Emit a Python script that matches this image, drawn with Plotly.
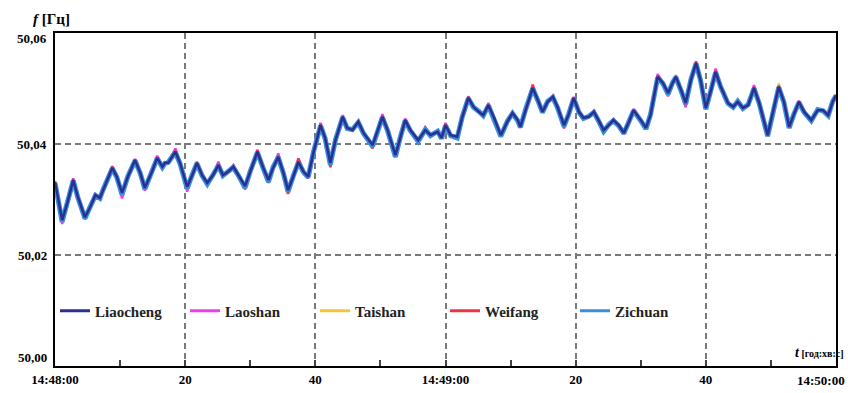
import plotly.graph_objects as go

# time in seconds after 14:48:00
T = [0, 1.1, 1.9, 2.8, 3.5, 4.6, 5.4, 6.2, 6.9, 7.4,
     8.8, 9.5, 10.3, 11.2, 12.3, 13.1, 13.8, 14.9, 15.7, 16.5,
     16.9, 17.4, 18.5, 19.2, 20.3, 21.1, 21.8, 22.6, 23.4, 24.3,
     25.1, 25.8, 26.6, 27.4, 28.2, 29.2, 30.0, 31.1, 32.0, 32.8,
     33.5, 34.3, 35.1, 35.8, 36.6, 37.4, 38.2, 38.9, 39.7, 40.8,
     41.5, 42.3, 43.1, 44.2, 44.9, 45.7, 46.6, 47.4, 48.8, 49.5,
     50.3, 51.1, 52.3, 53.1, 53.8, 54.6, 55.8, 56.9, 57.7, 58.8,
     59.4, 60.0, 60.8, 61.8, 62.6, 63.5, 64.3, 65.1, 65.8, 66.6,
     67.4, 68.5, 69.5, 70.3, 71.1, 71.5, 72.3, 73.4, 74.2, 74.9,
     75.7, 76.5, 77.2, 78.2, 78.9, 79.7, 80.5, 81.2, 82.0, 82.8,
     83.5, 84.3, 85.1, 85.8, 86.6, 87.4, 88.2, 88.9, 90.0, 90.8,
     91.5, 92.6, 93.4, 94.2, 94.9, 95.4, 96.2, 96.9, 97.7, 98.5,
     99.2, 100.0, 100.8, 101.5, 102.3, 103.4, 104.2, 104.9, 105.7, 106.5,
     107.4, 108.2, 109.5, 110.3, 111.2, 112.0, 112.8, 113.5, 114.3, 115.1,
     116.2, 117.2, 118.0, 118.8, 119.5, 120.0]

liaocheng = [50.0332, 50.0263, 50.0294, 50.0335, 50.0305, 50.0268, 50.0286, 50.0308, 50.0303, 50.0317,
             50.0357, 50.0341, 50.0312, 50.0341, 50.0371, 50.0348, 50.0321, 50.0350, 50.0375, 50.0359,
             50.0366, 50.0366, 50.0386, 50.0366, 50.0323, 50.0344, 50.0366, 50.0344, 50.0330, 50.0344,
             50.0362, 50.0344, 50.0350, 50.0359, 50.0344, 50.0324, 50.0350, 50.0386, 50.0357, 50.0335,
             50.0357, 50.0377, 50.0348, 50.0317, 50.0341, 50.0368, 50.0350, 50.0341, 50.0384, 50.0434,
             50.0411, 50.0366, 50.0407, 50.0449, 50.0429, 50.0425, 50.0440, 50.0420, 50.0398, 50.0420,
             50.0449, 50.0425, 50.0380, 50.0413, 50.0443, 50.0425, 50.0407, 50.0425, 50.0416, 50.0422,
             50.0411, 50.0434, 50.0416, 50.0413, 50.0449, 50.0483, 50.0467, 50.0458, 50.0452, 50.0470,
             50.0449, 50.0416, 50.0440, 50.0456, 50.0443, 50.0431, 50.0461, 50.0501, 50.0479, 50.0458,
             50.0476, 50.0485, 50.0467, 50.0434, 50.0452, 50.0483, 50.0458, 50.0447, 50.0449, 50.0458,
             50.0443, 50.0425, 50.0434, 50.0443, 50.0434, 50.0420, 50.0440, 50.0461, 50.0443, 50.0429,
             50.0452, 50.0521, 50.0510, 50.0492, 50.0510, 50.0521, 50.0497, 50.0474, 50.0515, 50.0546,
             50.0515, 50.0465, 50.0497, 50.0530, 50.0503, 50.0474, 50.0467, 50.0476, 50.0465, 50.0470,
             50.0501, 50.0474, 50.0416, 50.0458, 50.0503, 50.0476, 50.0431, 50.0452, 50.0476, 50.0458,
             50.0443, 50.0461, 50.0461, 50.0452, 50.0476, 50.0488]

laoshan = [50.0330, 50.0256, 50.0294, 50.0338, 50.0305, 50.0264, 50.0286, 50.0310, 50.0303, 50.0317,
           50.0359, 50.0341, 50.0302, 50.0341, 50.0373, 50.0348, 50.0316, 50.0350, 50.0379, 50.0359,
           50.0366, 50.0366, 50.0392, 50.0366, 50.0314, 50.0344, 50.0368, 50.0344, 50.0326, 50.0344,
           50.0368, 50.0344, 50.0350, 50.0362, 50.0344, 50.0318, 50.0350, 50.0390, 50.0357, 50.0332,
           50.0357, 50.0383, 50.0348, 50.0312, 50.0341, 50.0372, 50.0350, 50.0338, 50.0384, 50.0438,
           50.0411, 50.0360, 50.0407, 50.0452, 50.0429, 50.0425, 50.0442, 50.0420, 50.0395, 50.0420,
           50.0454, 50.0425, 50.0376, 50.0413, 50.0446, 50.0425, 50.0404, 50.0425, 50.0416, 50.0424,
           50.0411, 50.0438, 50.0416, 50.0410, 50.0449, 50.0486, 50.0467, 50.0458, 50.0452, 50.0474,
           50.0449, 50.0413, 50.0440, 50.0458, 50.0443, 50.0429, 50.0461, 50.0503, 50.0479, 50.0456,
           50.0476, 50.0487, 50.0467, 50.0431, 50.0452, 50.0485, 50.0458, 50.0445, 50.0449, 50.0460,
           50.0443, 50.0422, 50.0434, 50.0445, 50.0434, 50.0418, 50.0440, 50.0463, 50.0443, 50.0427,
           50.0452, 50.0526, 50.0510, 50.0486, 50.0510, 50.0524, 50.0497, 50.0466, 50.0515, 50.0549,
           50.0515, 50.0462, 50.0497, 50.0536, 50.0503, 50.0474, 50.0465, 50.0476, 50.0463, 50.0470,
           50.0506, 50.0474, 50.0414, 50.0458, 50.0503, 50.0476, 50.0429, 50.0452, 50.0478, 50.0458,
           50.0441, 50.0461, 50.0461, 50.0450, 50.0476, 50.0484]

taishan = [50.0334, 50.0265, 50.0296, 50.0333, 50.0305, 50.0270, 50.0286, 50.0306, 50.0303, 50.0319,
           50.0355, 50.0341, 50.0314, 50.0341, 50.0369, 50.0348, 50.0323, 50.0350, 50.0373, 50.0359,
           50.0364, 50.0366, 50.0384, 50.0366, 50.0325, 50.0344, 50.0364, 50.0344, 50.0332, 50.0344,
           50.0360, 50.0344, 50.0352, 50.0357, 50.0344, 50.0326, 50.0350, 50.0384, 50.0357, 50.0337,
           50.0357, 50.0375, 50.0348, 50.0319, 50.0341, 50.0366, 50.0350, 50.0343, 50.0384, 50.0432,
           50.0411, 50.0368, 50.0407, 50.0447, 50.0429, 50.0425, 50.0438, 50.0416, 50.0400, 50.0420,
           50.0447, 50.0425, 50.0382, 50.0413, 50.0441, 50.0425, 50.0409, 50.0425, 50.0416, 50.0420,
           50.0411, 50.0432, 50.0416, 50.0415, 50.0449, 50.0481, 50.0467, 50.0458, 50.0452, 50.0468,
           50.0449, 50.0418, 50.0440, 50.0454, 50.0443, 50.0433, 50.0461, 50.0499, 50.0479, 50.0460,
           50.0476, 50.0483, 50.0467, 50.0436, 50.0452, 50.0481, 50.0458, 50.0449, 50.0449, 50.0456,
           50.0443, 50.0427, 50.0434, 50.0441, 50.0434, 50.0422, 50.0440, 50.0459, 50.0443, 50.0431,
           50.0452, 50.0519, 50.0510, 50.0494, 50.0510, 50.0519, 50.0497, 50.0476, 50.0515, 50.0543,
           50.0515, 50.0467, 50.0497, 50.0528, 50.0503, 50.0474, 50.0469, 50.0476, 50.0467, 50.0470,
           50.0499, 50.0474, 50.0418, 50.0458, 50.0509, 50.0476, 50.0433, 50.0452, 50.0474, 50.0458,
           50.0445, 50.0461, 50.0461, 50.0454, 50.0476, 50.0490]

weifang = [50.0331, 50.0262, 50.0293, 50.0336, 50.0305, 50.0266, 50.0286, 50.0309, 50.0303, 50.0316,
           50.0360, 50.0341, 50.0310, 50.0341, 50.0372, 50.0348, 50.0320, 50.0350, 50.0376, 50.0359,
           50.0367, 50.0366, 50.0388, 50.0366, 50.0320, 50.0344, 50.0367, 50.0344, 50.0328, 50.0344,
           50.0364, 50.0344, 50.0350, 50.0360, 50.0344, 50.0321, 50.0350, 50.0388, 50.0357, 50.0330,
           50.0357, 50.0379, 50.0348, 50.0310, 50.0341, 50.0374, 50.0350, 50.0339, 50.0384, 50.0436,
           50.0411, 50.0358, 50.0407, 50.0450, 50.0429, 50.0425, 50.0441, 50.0420, 50.0392, 50.0420,
           50.0451, 50.0425, 50.0378, 50.0413, 50.0444, 50.0425, 50.0405, 50.0430, 50.0416, 50.0423,
           50.0411, 50.0436, 50.0416, 50.0411, 50.0449, 50.0485, 50.0467, 50.0458, 50.0452, 50.0471,
           50.0449, 50.0415, 50.0440, 50.0457, 50.0443, 50.0430, 50.0461, 50.0507, 50.0479, 50.0457,
           50.0476, 50.0486, 50.0467, 50.0428, 50.0452, 50.0484, 50.0458, 50.0446, 50.0449, 50.0459,
           50.0443, 50.0419, 50.0434, 50.0444, 50.0434, 50.0419, 50.0440, 50.0462, 50.0443, 50.0428,
           50.0452, 50.0523, 50.0510, 50.0490, 50.0510, 50.0522, 50.0497, 50.0471, 50.0515, 50.0548,
           50.0515, 50.0464, 50.0497, 50.0532, 50.0503, 50.0474, 50.0466, 50.0476, 50.0464, 50.0470,
           50.0503, 50.0474, 50.0415, 50.0458, 50.0505, 50.0476, 50.0430, 50.0452, 50.0477, 50.0458,
           50.0440, 50.0461, 50.0461, 50.0451, 50.0478, 50.0486]

zichuan = [50.0330, 50.0260, 50.0295, 50.0334, 50.0304, 50.0266, 50.0287, 50.0307, 50.0302, 50.0318,
           50.0356, 50.0340, 50.0309, 50.0342, 50.0370, 50.0347, 50.0319, 50.0351, 50.0374, 50.0358,
           50.0365, 50.0367, 50.0385, 50.0365, 50.0320, 50.0345, 50.0365, 50.0343, 50.0328, 50.0345,
           50.0361, 50.0343, 50.0351, 50.0358, 50.0343, 50.0321, 50.0351, 50.0385, 50.0356, 50.0332,
           50.0358, 50.0376, 50.0347, 50.0314, 50.0342, 50.0367, 50.0349, 50.0340, 50.0385, 50.0433,
           50.0410, 50.0363, 50.0408, 50.0448, 50.0428, 50.0426, 50.0439, 50.0419, 50.0396, 50.0421,
           50.0448, 50.0424, 50.0377, 50.0414, 50.0442, 50.0424, 50.0405, 50.0426, 50.0415, 50.0423,
           50.0410, 50.0433, 50.0415, 50.0411, 50.0450, 50.0482, 50.0466, 50.0459, 50.0451, 50.0469,
           50.0448, 50.0414, 50.0441, 50.0455, 50.0442, 50.0430, 50.0462, 50.0500, 50.0478, 50.0457,
           50.0477, 50.0484, 50.0466, 50.0432, 50.0453, 50.0482, 50.0457, 50.0446, 50.0450, 50.0457,
           50.0442, 50.0423, 50.0435, 50.0442, 50.0433, 50.0419, 50.0441, 50.0460, 50.0442, 50.0427,
           50.0453, 50.0520, 50.0509, 50.0490, 50.0511, 50.0520, 50.0496, 50.0472, 50.0516, 50.0545,
           50.0514, 50.0463, 50.0498, 50.0529, 50.0502, 50.0473, 50.0466, 50.0477, 50.0464, 50.0471,
           50.0500, 50.0473, 50.0414, 50.0459, 50.0502, 50.0475, 50.0429, 50.0453, 50.0475, 50.0457,
           50.0442, 50.0462, 50.0460, 50.0451, 50.0477, 50.0487]

x_tickvals = [0, 20, 40, 60, 80, 100, 120]
x_ticktext = ["14:48:00", "20", "40", "14:49:00", "20", "40", "14:50:00"]
y_tickvals = [50.00, 50.02, 50.04, 50.06]
y_ticktext = ["50,00", "50,02", "50,04", "50,06"]

series_names = ["Liaocheng", "Laoshan", "Taishan", "Weifang", "Zichuan"]
series_colors = {"Liaocheng": "#2b2f8f", "Laoshan": "#f03cf0", "Taishan": "#f2c63a",
                 "Weifang": "#ee3344", "Zichuan": "#3a8ede"}
series_values = {"Liaocheng": liaocheng, "Laoshan": laoshan, "Taishan": taishan,
                 "Weifang": weifang, "Zichuan": zichuan}
line_widths = {"Liaocheng": 2.5, "Laoshan": 2.5, "Taishan": 2.5, "Weifang": 2.5, "Zichuan": 5}
draw_order = ["Laoshan", "Taishan", "Weifang", "Zichuan", "Liaocheng"]
legend_rank = {n: i for i, n in enumerate(series_names)}

SERIF = "Liberation Serif, Times New Roman, serif"

fig = go.Figure()
for name in draw_order:
    fig.add_trace(go.Scatter(
        x=T, y=series_values[name], mode="lines", name=name,
        line=dict(color=series_colors[name], width=line_widths[name]),
        legendrank=legend_rank[name] + 1, showlegend=False,
    ))
# legend entries with uniform swatch lines
for name in series_names:
    fig.add_trace(go.Scatter(
        x=[None], y=[None], mode="lines", name=name,
        line=dict(color=series_colors[name], width=3),
        legendrank=legend_rank[name] + 1,
    ))

fig.update_layout(
    width=848, height=393,
    margin=dict(l=55, r=12, t=33, b=27, autoexpand=False),
    paper_bgcolor="white", plot_bgcolor="white",
    font=dict(family=SERIF, size=13, color="black"),
    showlegend=True,
    legend=dict(
        orientation="h", x=0.0, y=0.165, xanchor="left", yanchor="middle",
        bgcolor="rgba(0,0,0,0)", font=dict(family=SERIF, size=15, color="#222", weight="bold"),
        entrywidth=85, entrywidthmode="pixels", itemwidth=30, traceorder="normal",
    ),
)

fig.update_xaxes(
    range=[0, 120], tickvals=x_tickvals[:-1], ticktext=x_ticktext[:-1],
    showgrid=True, gridcolor="#7a7a7a", gridwidth=1.5, griddash="6px,4px",
    showline=True, linecolor="black", linewidth=2, mirror=True,
    ticks="inside", ticklen=6, tickcolor="#444", tickwidth=1.5,
    minor=dict(dtick=10, tick0=0, ticks="inside", ticklen=6, tickcolor="#444", tickwidth=1.5, showgrid=False),
    tickfont=dict(family=SERIF, size=13, weight="bold"),
    zeroline=False, automargin=False,
)
fig.update_yaxes(
    range=[50.0, 50.06], tickvals=y_tickvals, ticktext=y_ticktext, showticklabels=False,
    showgrid=True, gridcolor="#7a7a7a", gridwidth=1.5, griddash="6px,4px",
    showline=True, linecolor="black", linewidth=2, mirror=True,
    ticks="", zeroline=False, automargin=False,
)

# y tick labels (nudged like the original: top one down, bottom one up)
y_label_shift = [9, 0, 0, -5]
for val, txt, dy in zip(y_tickvals, y_ticktext, y_label_shift):
    fig.add_annotation(
        xref="paper", yref="y", x=0, y=val, xshift=-6, yshift=dy, xanchor="right", yanchor="middle",
        text=txt, showarrow=False, font=dict(family=SERIF, size=13, color="black", weight="bold"),
    )

# last x tick label kept inside the page
fig.add_annotation(
    xref="x", yref="paper", x=x_tickvals[-1], y=0, yshift=-5, xshift=11, xanchor="right", yanchor="top",
    text=x_ticktext[-1], showarrow=False, font=dict(family=SERIF, size=13, color="black", weight="bold"),
)

fig.add_annotation(
    xref="paper", yref="paper", x=-0.005, y=1.0, yshift=4, xanchor="center", yanchor="bottom",
    text="<b><i>f</i> [Гц]</b>", showarrow=False, font=dict(family=SERIF, size=15, color="black"),
)
fig.add_annotation(
    xref="paper", yref="paper", x=1.0, xshift=10, y=0.042, xanchor="right", yanchor="middle",
    text="<b><i><span style='font-size:14px'>t</span></i> [год:хв:с]</b>", showarrow=False,
    font=dict(family=SERIF, size=10, color="black"),
)

fig.write_html("out.html", config={"displayModeBar": False},
               post_script="document.body.style.margin='0';")
